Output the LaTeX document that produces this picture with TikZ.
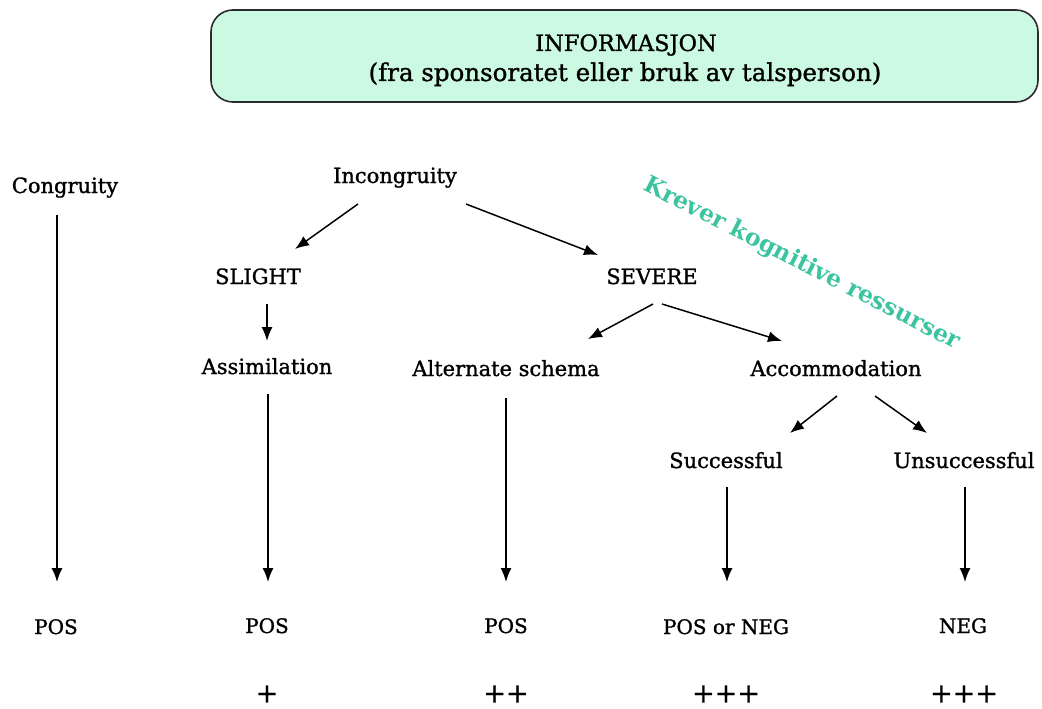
\documentclass[tikz,border=0pt]{standalone}
\usepackage{fontspec}
\setmainfont{DejaVu Serif}[UprightFeatures={FakeBold=1.2}]
\newfontfamily\remarkfont{DejaVu Serif}
\usetikzlibrary{arrows.meta}
\definecolor{boxfill}{HTML}{CCF9E2}
\definecolor{boxline}{HTML}{2A2A2A}
\definecolor{teal}{HTML}{3CC3A0}
\tikzset{
  lbl/.style={anchor=base, inner sep=0pt, font=\fontsize{21}{25}\selectfont},
  res/.style={anchor=base, inner sep=0pt, font=\fontsize{20}{24}\selectfont},
  plus/.style={anchor=center, inner sep=0pt, font=\fontsize{27}{30}\selectfont},
  arr/.style={-{Latex[length=14pt,width=11pt]}, line width=1.5pt, black},
  infobox/.style={draw=boxline, line width=1.6pt, fill=boxfill, rounded corners=22pt},
}
\begin{document}
\begin{tikzpicture}[x=1pt, y=-1pt]
\useasboundingbox (0,0) rectangle (1042,709);

% header box
\draw[infobox] (211,10) rectangle (1038,102);
\node[anchor=base, inner sep=0pt, font=\fontsize{22.5}{26}\selectfont] (info1) at (626,51) {INFORMASJON};
\node[anchor=base, inner sep=0pt, font=\fontsize{24.5}{28}\selectfont] (info2) at (625,81) {(fra sponsoratet eller bruk av talsperson)};

% tree labels
\node[lbl] (congr)  at (65,193)  {Congruity};
\node[lbl] (incong) at (395,183) {Incongruity};
\node[lbl] (slight) at (258,284) {SLIGHT};
\node[lbl] (severe) at (652,284) {SEVERE};
\node[lbl] (assim)  at (267,374) {Assimilation};
\node[lbl] (alt)    at (506,376) {Alternate schema};
\node[lbl] (accom)  at (836,376) {Accommodation};
\node[lbl] (succ)   at (726,468) {Successful};
\node[lbl] (unsucc) at (964,468) {Unsuccessful};

% outcomes
\node[res] (pos1)   at (56,634)  {POS};
\node[res] (pos2)   at (267,633) {POS};
\node[res] (pos3)   at (506,633) {POS};
\node[res] (posneg) at (726,634) {POS or NEG};
\node[res] (neg)    at (963,633) {NEG};

% effort marks
\node[plus] (p2) at (267,694) {+};
\node[plus] (p3) at (506,694) {++};
\node[plus] (p4) at (726,694) {+++};
\node[plus] (p5) at (964,694) {+++};

% slanted remark
\node[font=\remarkfont\bfseries\fontsize{23.5}{27}\selectfont, text=teal, rotate=-27, inner sep=0pt] (krever) at (802,264) {Krever kognitive ressurser};

% connectors
\draw[arr] ([shift={(-8,22)}]congr.base)  -- ([shift={(1,-52)}]pos1.base);
\draw[arr] ([shift={(-37,21)}]incong.base) -- ([shift={(37,-35)}]slight.base);
\draw[arr] ([shift={(71,21)}]incong.base)  -- ([shift={(-54,-29)}]severe.base);
\draw[arr] ([shift={(9,20)}]slight.base)   -- ([shift={(0,-33)}]assim.base);
\draw[arr] ([shift={(1,20)}]severe.base)   -- ([shift={(82,-37)}]alt.base);
\draw[arr] ([shift={(10,20)}]severe.base)  -- ([shift={(-54,-35)}]accom.base);
\draw[arr] ([shift={(1,20)}]accom.base)    -- ([shift={(64,-35)}]succ.base);
\draw[arr] ([shift={(39,20)}]accom.base)   -- ([shift={(-37,-35)}]unsucc.base);
\draw[arr] ([shift={(1,20)}]assim.base)    -- ([shift={(1,-51)}]pos2.base);
\draw[arr] ([shift={(0,22)}]alt.base)      -- ([shift={(0,-51)}]pos3.base);
\draw[arr] ([shift={(1,19)}]succ.base)     -- ([shift={(1,-52)}]posneg.base);
\draw[arr] ([shift={(1,19)}]unsucc.base)   -- ([shift={(2,-51)}]neg.base);
\end{tikzpicture}
\end{document}
